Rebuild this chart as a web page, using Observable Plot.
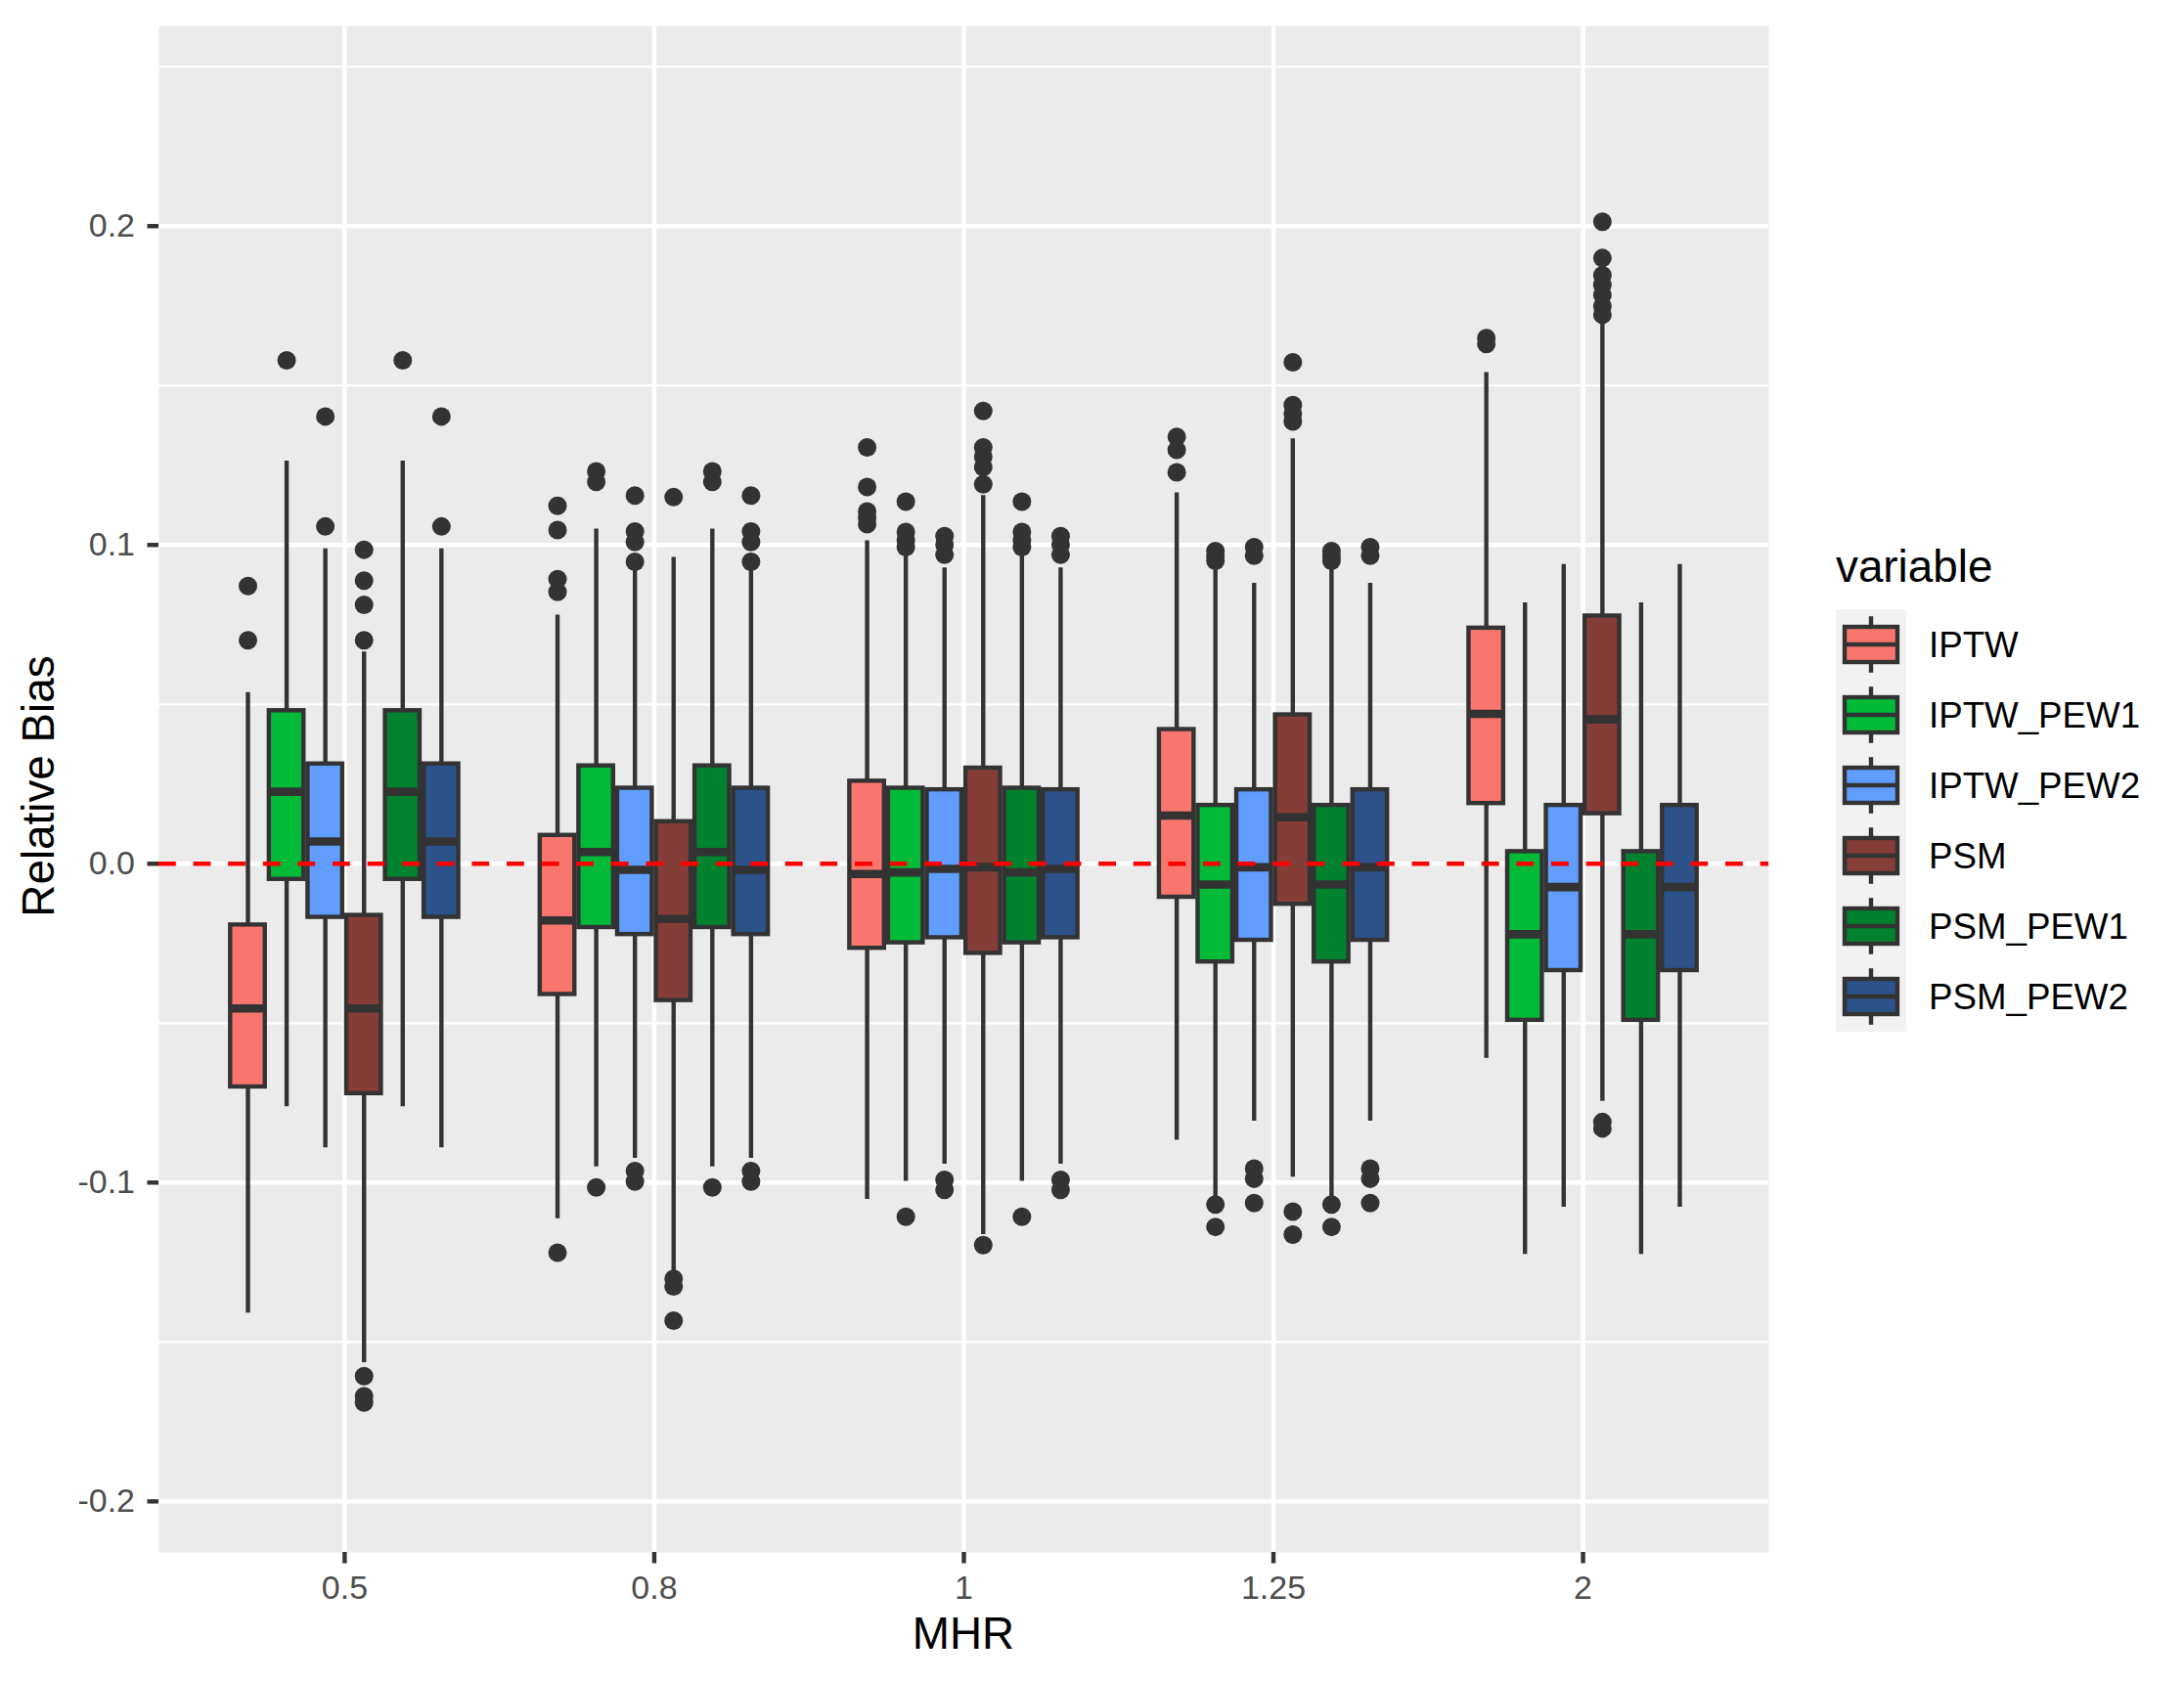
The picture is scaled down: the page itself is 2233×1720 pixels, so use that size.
<!DOCTYPE html>
<html>
<head>
<meta charset="utf-8">
<script src="https://cdn.jsdelivr.net/npm/d3@7"></script>
<script src="https://cdn.jsdelivr.net/npm/@observablehq/plot@0.6"></script>
<style>
  html, body { margin: 0; padding: 0; background: #fff; }
  #wrap { position: relative; width: 2233px; height: 1720px; background: #fff; font-family: "Liberation Sans", Arial, Helvetica, sans-serif; }
  #wrap > * { position: absolute; left: 0; top: 0; }
  .title { position: absolute; color: #000; font-size: 45.8px; white-space: nowrap; line-height: 1; }
</style>
</head>
<body>
<div id="wrap"></div>
<script>
// ---------------- DATA ----------------
const categories = ["0.5", "0.8", "1", "1.25", "2"];
const series = ["IPTW", "IPTW_PEW1", "IPTW_PEW2", "PSM", "PSM_PEW1", "PSM_PEW2"];
const seriesColors = ["#F8766D", "#00BA38", "#619CFF", "#853D38", "#01822E", "#2D5289"];
const yTicks = [-0.2, -0.1, 0, 0.1, 0.2];
const yMinorTicks = [-0.15, -0.05, 0.05, 0.15, 0.25];
const referenceLine = [0];

// per category: [lower whisker, Q1, median, Q3, upper whisker]
const statsIPTW = [
  [-0.1409, -0.0700, -0.0454, -0.0192, 0.0537],
  [-0.1113, -0.0410, -0.0178, 0.0089, 0.0780],
  [-0.1053, -0.0265, -0.0032, 0.0259, 0.1013],
  [-0.0867, -0.0105, 0.0151, 0.0421, 0.1163],
  [-0.0610, 0.0189, 0.0470, 0.0739, 0.1541]
];
const statsIPTW_PEW1 = [
  [-0.0762, -0.0049, 0.0226, 0.0480, 0.1263],
  [-0.0951, -0.0200, 0.0037, 0.0307, 0.1050],
  [-0.0996, -0.0248, -0.0027, 0.0237, 0.0974],
  [-0.1045, -0.0308, -0.0065, 0.0183, 0.0935],
  [-0.1225, -0.0491, -0.0221, 0.0038, 0.0818]
];
const statsIPTW_PEW2 = [
  [-0.0891, -0.0168, 0.0070, 0.0313, 0.0988],
  [-0.0924, -0.0222, -0.0019, 0.0237, 0.0930],
  [-0.0942, -0.0232, -0.0016, 0.0232, 0.0928],
  [-0.0807, -0.0240, -0.0011, 0.0232, 0.0880],
  [-0.1077, -0.0335, -0.0073, 0.0183, 0.0939]
];
const statsPSM = [
  [-0.1565, -0.0721, -0.0454, -0.0162, 0.0664],
  [-0.1280, -0.0429, -0.0173, 0.0132, 0.0961],
  [-0.1163, -0.0281, -0.0011, 0.0300, 0.1155],
  [-0.0983, -0.0127, 0.0146, 0.0467, 0.1333],
  [-0.0745, 0.0157, 0.0453, 0.0777, 0.1703]
];
const statsPSM_PEW1 = [
  [-0.0762, -0.0049, 0.0226, 0.0480, 0.1263],
  [-0.0951, -0.0200, 0.0037, 0.0307, 0.1050],
  [-0.0996, -0.0248, -0.0027, 0.0237, 0.0974],
  [-0.1045, -0.0308, -0.0065, 0.0183, 0.0935],
  [-0.1225, -0.0491, -0.0221, 0.0038, 0.0818]
];
const statsPSM_PEW2 = [
  [-0.0891, -0.0168, 0.0070, 0.0313, 0.0988],
  [-0.0924, -0.0222, -0.0019, 0.0237, 0.0930],
  [-0.0942, -0.0232, -0.0016, 0.0232, 0.0928],
  [-0.0807, -0.0240, -0.0011, 0.0232, 0.0880],
  [-0.1077, -0.0335, -0.0073, 0.0183, 0.0939]
];

// outliers per category
const outIPTW = [
  [0.0871, 0.0701],
  [0.1123, 0.1047, 0.0893, 0.0853, -0.1220],
  [0.1306, 0.1182, 0.1105, 0.1085, 0.1065],
  [0.1339, 0.1298, 0.1228],
  [0.1649, 0.1630]
];
const outIPTW_PEW1 = [
  [0.1579],
  [0.1231, 0.1198, -0.1015],
  [0.1136, 0.1041, 0.1015, 0.0993, -0.1107],
  [0.0981, 0.0965, 0.0950, -0.1069, -0.1139],
  []
];
const outIPTW_PEW2 = [
  [0.1403, 0.1058],
  [0.1155, 0.1042, 0.1009, 0.0947, -0.0964, -0.0997],
  [0.1028, 0.1001, 0.0969, -0.0991, -0.1023],
  [0.0993, 0.0966, -0.0956, -0.0988, -0.1064],
  []
];
const outPSM = [
  [0.0985, 0.0888, 0.0812, 0.0701, -0.1607, -0.1670, -0.1690],
  [0.1150, -0.1302, -0.1326, -0.1433],
  [0.1420, 0.1306, 0.1277, 0.1244, 0.1190, -0.1196],
  [0.1573, 0.1439, 0.1412, 0.1387, -0.1091, -0.1163],
  [0.2014, 0.1900, 0.1846, 0.1816, 0.1784, 0.1749, 0.1722, -0.0810, -0.0830]
];
const outPSM_PEW1 = [
  [0.1579],
  [0.1231, 0.1198, -0.1015],
  [0.1136, 0.1041, 0.1015, 0.0993, -0.1107],
  [0.0981, 0.0965, 0.0950, -0.1069, -0.1139],
  []
];
const outPSM_PEW2 = [
  [0.1403, 0.1058],
  [0.1155, 0.1042, 0.1009, 0.0947, -0.0964, -0.0997],
  [0.1028, 0.1001, 0.0969, -0.0991, -0.1023],
  [0.0993, 0.0966, -0.0956, -0.0988, -0.1064],
  []
];

// ---------------- BUILD TABLES ----------------
const allStats = [statsIPTW, statsIPTW_PEW1, statsIPTW_PEW2, statsPSM, statsPSM_PEW1, statsPSM_PEW2];
const allOut = [outIPTW, outIPTW_PEW1, outIPTW_PEW2, outPSM, outPSM_PEW1, outPSM_PEW2];
const dodgeWidth = 0.75;
const slot = dodgeWidth / series.length;
const halfBox = slot * 0.448;

const boxes = [];
const outliers = [];
series.forEach((s, j) => {
  categories.forEach((c, i) => {
    const [lo, q1, med, q3, hi] = allStats[j][i];
    const xc = i + (j - (series.length - 1) / 2) * slot;
    boxes.push({series: s, category: c, xc, x1: xc - halfBox, x2: xc + halfBox, lo, q1, med, q3, hi});
    allOut[j][i].forEach(v => outliers.push({series: s, category: c, xc, v}));
  });
});

// ---------------- PLOT ----------------
const W = 2233, H = 1720;
const mL = 162, mR = W - 1808, mT = 26, mB = H - 1587;
const dark = "#333333";
const lw = 4.4;

const chart = Plot.plot({
  width: W,
  height: H,
  marginLeft: mL,
  marginRight: mR,
  marginTop: mT,
  marginBottom: mB,
  style: {fontFamily: "'Liberation Sans', Arial, Helvetica, sans-serif", background: "transparent"},
  x: {domain: [-0.6, categories.length - 1 + 0.6]},
  y: {domain: [-0.216, 0.2628]},
  color: {domain: series, range: seriesColors, legend: false},
  marks: [
    Plot.frame({fill: "#EBEBEB", stroke: "none"}),
    Plot.ruleY(yMinorTicks, {stroke: "#FFFFFF", strokeWidth: 2.2}),
    Plot.ruleY(yTicks, {stroke: "#FFFFFF", strokeWidth: lw}),
    Plot.ruleX(d3.range(categories.length), {stroke: "#FFFFFF", strokeWidth: lw}),
    Plot.ruleX(boxes, {x: "xc", y1: "lo", y2: "q1", stroke: dark, strokeWidth: lw}),
    Plot.ruleX(boxes, {x: "xc", y1: "q3", y2: "hi", stroke: dark, strokeWidth: lw}),
    Plot.rect(boxes, {x1: "x1", x2: "x2", y1: "q1", y2: "q3", fill: "series", stroke: dark, strokeWidth: lw}),
    Plot.ruleY(boxes, {y: "med", x1: "x1", x2: "x2", stroke: dark, strokeWidth: 8.6}),
    Plot.dot(outliers, {x: "xc", y: "v", r: 9.5, fill: dark, stroke: "none"}),
    Plot.ruleY(referenceLine, {stroke: "#FF0000", strokeWidth: lw, strokeDasharray: "17.8,17.8"}),
    Plot.axisX(d3.range(categories.length), {
      tickFormat: i => categories[i], tickSize: 11.5, tickPadding: 11.5,
      stroke: dark, strokeWidth: lw, color: "#4D4D4D", fontSize: 34, label: null
    }),
    Plot.axisY(yTicks, {
      tickFormat: d => d.toFixed(1), tickSize: 11.5, tickPadding: 13,
      stroke: dark, strokeWidth: lw, color: "#4D4D4D", fontSize: 34, label: null
    })
  ]
});

const wrap = document.getElementById("wrap");
wrap.appendChild(chart);

// axis titles
const xt = document.createElement("div");
xt.className = "title";
xt.textContent = "MHR";
xt.style.left = "985px";
xt.style.top = "1648px";
xt.style.transform = "translateX(-50%)";
wrap.appendChild(xt);

const yt = document.createElement("div");
yt.className = "title";
yt.textContent = "Relative Bias";
yt.style.left = "40px";
yt.style.top = "804px";
yt.style.transform = "translate(-50%, -50%) rotate(-90deg)";
wrap.appendChild(yt);

// legend
const legend = d3.create("svg")
  .attr("width", W).attr("height", H)
  .style("position", "absolute").style("left", "0px").style("top", "0px")
  .style("font-family", "'Liberation Sans', Arial, Helvetica, sans-serif");
const lx = 1877, ly = 623, key = 72;
legend.append("text").attr("x", lx).attr("y", 595).attr("font-size", 45.8).attr("fill", "#000").text("variable");
series.forEach((s, i) => {
  const g = legend.append("g").attr("transform", `translate(${lx},${ly + i * key})`);
  g.append("rect").attr("width", key).attr("height", key).attr("fill", "#F2F2F2");
  g.append("line").attr("x1", key / 2).attr("x2", key / 2).attr("y1", key * 0.1).attr("y2", key * 0.25).attr("stroke", dark).attr("stroke-width", lw);
  g.append("line").attr("x1", key / 2).attr("x2", key / 2).attr("y1", key * 0.75).attr("y2", key * 0.9).attr("stroke", dark).attr("stroke-width", lw);
  g.append("rect").attr("x", key * 0.125).attr("y", key * 0.25).attr("width", key * 0.75).attr("height", key * 0.5)
    .attr("fill", seriesColors[i]).attr("stroke", dark).attr("stroke-width", lw);
  g.append("line").attr("x1", key * 0.125).attr("x2", key * 0.875).attr("y1", key / 2).attr("y2", key / 2).attr("stroke", dark).attr("stroke-width", lw);
  g.append("text").attr("x", key + 23).attr("y", key / 2).attr("dy", "0.36em").attr("font-size", 36.7).attr("fill", "#000").text(s);
});
wrap.appendChild(legend.node());
</script>
</body>
</html>
